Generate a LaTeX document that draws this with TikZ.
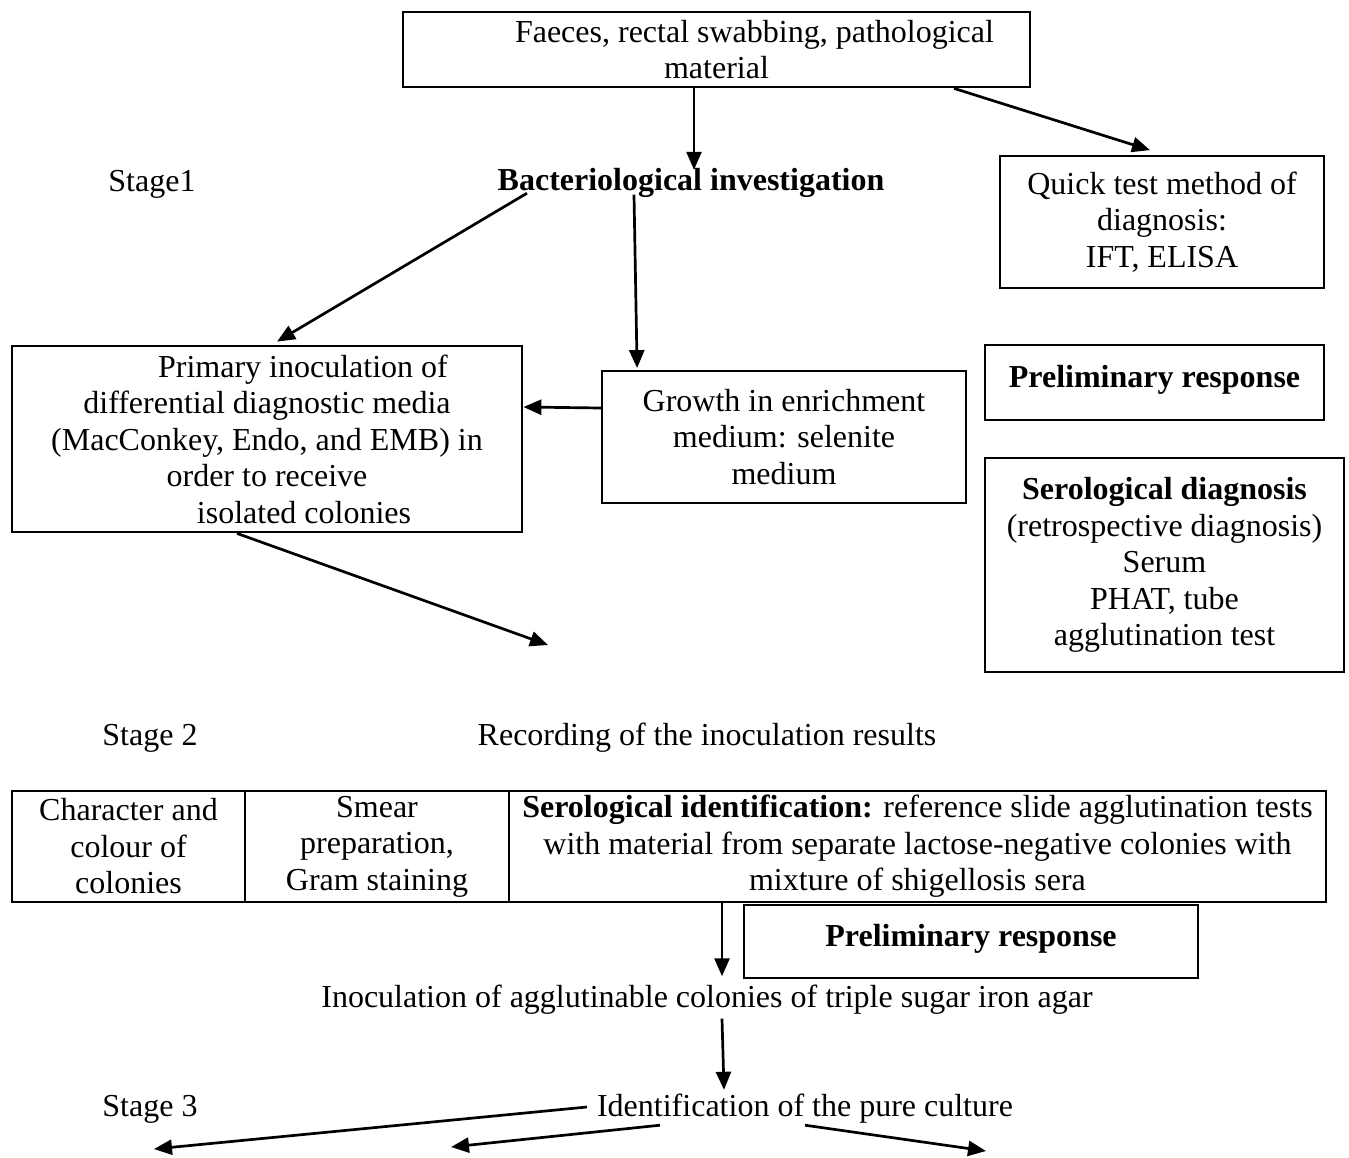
\documentclass[tikz,border=0pt]{standalone}
\usepackage{fontspec}
\setmainfont{Liberation Serif}
\usetikzlibrary{arrows.meta}
\begin{document}
\begin{tikzpicture}[x=1pt,y=-1pt,
  every node/.style={font=\fontsize{32}{36.5}\selectfont},
  txt/.style={inner sep=0pt,text height=25pt,text depth=4pt},
  thickbox/.style={draw,line width=2.8pt,align=center,inner sep=0pt},
  thinbox/.style={draw,line width=1.8pt,align=center,inner sep=0pt},
  arr/.style={line width=2.7pt,-{Triangle[length=18pt,width=15pt]}}]
\useasboundingbox (0,0) rectangle (1349,1158);

% stage 1
\node[thickbox,minimum width=627pt,minimum height=75pt] (top) at (716.5,49.5)
  {\hspace*{76pt}Faeces, rectal swabbing, pathological\\material};
\node[txt] (stage1) at (152,181) {Stage1};
\node[txt,font=\fontsize{32}{36.5}\selectfont\bfseries] (bac) at (691,180) {Bacteriological investigation};
\node[thinbox,minimum width=324pt,minimum height=132pt] (quick) at (1162,222)
  {Quick test method of\\diagnosis:\\IFT, ELISA};
\node[thickbox,minimum width=510pt,minimum height=186pt] (prim) at (267,439)
  {\hspace*{72pt}Primary inoculation of\\differential diagnostic media\\(MacConkey, Endo, and EMB) in\\order to receive\\\hspace*{74pt}isolated colonies};
\node[thinbox,minimum width=364pt,minimum height=132pt] (grow) at (784,437)
  {Growth in enrichment\\medium: selenite\\medium};
\node[thinbox,minimum width=339pt,minimum height=75pt,font=\fontsize{32}{36.5}\selectfont\bfseries] (prelA) at (1154.5,382.5)
  {Preliminary response\\[-24.5pt]};
\node[thinbox,minimum width=359pt,minimum height=214pt] (sero) at (1164.5,565)
  {\textbf{Serological diagnosis}\\(retrospective diagnosis)\\Serum\\PHAT, tube\\agglutination test};
\coordinate (afterprim) at (548,645);

% stage 2
\node[txt] (stage2) at (150,735) {Stage 2};
\node[txt] (rec) at (707,735) {Recording of the inoculation results};
\node[thickbox,minimum width=233pt,minimum height=111pt] (c1) at (128.5,846.5)
  {Character and\\colour of\\colonies};
\node[thickbox,minimum width=264pt,minimum height=111pt] (c2) at (377,846.5)
  {Smear\\preparation,\\Gram staining};
\node[thickbox,minimum width=817pt,minimum height=111pt] (c3) at (917.5,846.5)
  {\textbf{Serological identification:} reference slide agglutination tests\\with material from separate lactose-negative colonies with\\mixture of shigellosis sera};
\node[thinbox,minimum width=454pt,minimum height=73pt,font=\fontsize{32}{36.5}\selectfont\bfseries] (prelB) at (971,941.5)
  {Preliminary response\\[-24.5pt]};
\node[txt] (inoc) at (707,997) {Inoculation of agglutinable colonies of triple sugar iron agar};

% stage 3
\node[txt] (stage3) at (150,1106) {Stage 3};
\node[txt] (ident) at (805,1106) {Identification of the pure culture};
\coordinate (outA) at (154,1149);
\coordinate (outB) at (451,1147);
\coordinate (outC) at (986,1151);

% connectors
\draw[arr] ([xshift=-22.5pt]top.south) -- ([xshift=3pt,yshift=-4.5pt]bac.north);
\draw[arr] ([xshift=237.5pt]top.south) -- ([xshift=-12pt,yshift=5pt]quick.north);
\draw[arr] ([xshift=29.5pt,yshift=1.5pt]bac.south west) -- ([xshift=10pt,yshift=3pt]prim.north);
\draw[arr] ([xshift=136.5pt]bac.south west) -- ([xshift=36pt,yshift=2pt]grow.north west);
\draw[arr] ([yshift=29pt]grow.west) -- ([yshift=32pt]prim.east);
\draw[arr] ([xshift=-30pt]prim.south) -- (afterprim);
\draw[arr] ([xshift=-195.5pt]c3.south) -- ([xshift=15pt,yshift=6pt]inoc.north);
\draw[arr] ([xshift=15pt,yshift=-7pt]inoc.south) -- ([xshift=-81pt,yshift=1.5pt]ident.north);
\draw[arr] ([xshift=-10pt,yshift=-1pt]ident.west) -- (outA);
\draw[arr] ([xshift=-145pt,yshift=-4.5pt]ident.south) -- (outB);
\draw[arr] ([yshift=-4.5pt]ident.south) -- (outC);
\end{tikzpicture}
\end{document}
